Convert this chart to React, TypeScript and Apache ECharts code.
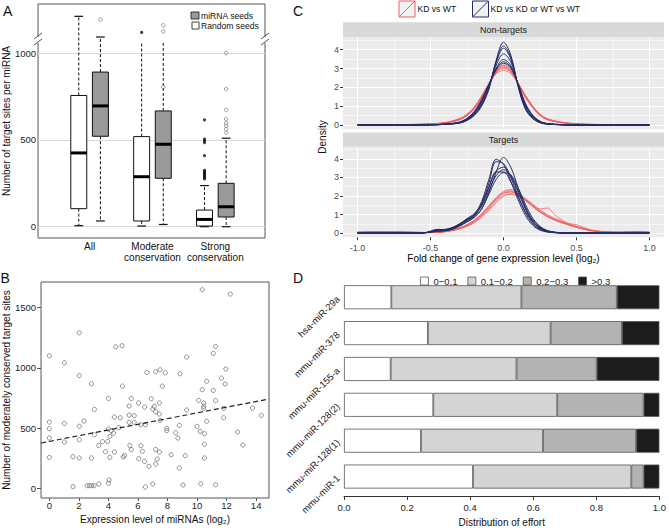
import React, { useEffect, useRef } from "react";
import * as echarts from "echarts";

const FONT = "'Liberation Sans', Arial, Helvetica, sans-serif";

// ---------------- Panel A (boxplots) ----------------
const A_CATEGORIES = ["All", "Moderate\nconservation", "Strong\nconservation"];
const A_GROUP_POS = [1, 2, 3];
const A_Y_TICKS = [0, 500, 1000];
// [lower whisker, Q1, median, Q3, upper whisker]
const A_RANDOM_STATS = [
  [6, 104, 425, 756, 1212],
  [4, 33, 288, 519, 1060],
  [0, 4, 42, 96, 237],
];
const A_MIRNA_STATS = [
  [33, 521, 696, 891, 1093],
  [13, 279, 475, 667, 1060],
  [0, 56, 115, 250, 510],
];
const A_RANDOM_UPPER_CAP = [1, 0, 1];
const A_MIRNA_UPPER_CAP = [1, 0, 1];
const A_RANDOM_OUTLIERS = [[], [1119], [616, 504, 494, 485, 410, 325, 318, 311, 304, 297, 290, 283, 276]];
const A_MIRNA_OUTLIERS = [[1193], [1160, 1125, 804], [1000, 793, 673, 620, 597, 581, 562, 542]];

// ---------------- Panel B (scatter) ----------------
const B_X_TICKS = [0, 2, 4, 6, 8, 10, 12, 14];
const B_Y_TICKS = [0, 500, 1000, 1500];
const B_EXPR = [
  0, 0, 0, 0, 0,
  1.02, 1.02, 1.02,
  1.6, 1.6,
  2.03, 2.03, 2.03, 2.03, 2.03,
  2.35, 2.56, 2.72, 2.87, 3.03,
  2.85, 2.85, 3.05, 3.05, 3.35, 3.35,
  3.6, 3.8, 3.95,
  4.0, 4.0, 4.0, 4.05,
  4.1, 4.1, 4.2, 4.35, 4.4, 4.4,
  4.5, 4.7, 4.8, 4.92, 4.95,
  5.0, 5.1,
  5.4, 5.4, 5.4, 5.45, 5.55, 5.55,
  5.75, 5.75,
  6.05, 6.05, 6.2, 6.2, 6.3, 6.45, 6.45, 6.5, 6.5,
  6.6, 6.75, 6.9, 7.0, 7.0, 7.1,
  7.2, 7.2, 7.2, 7.2, 7.3,
  7.45, 7.45, 7.45, 7.5, 7.5, 7.65, 7.85, 7.95, 7.95,
  8.25, 8.55, 8.7, 8.8, 8.8, 8.85, 9.05, 9.2, 9.3, 9.3,
  10.0, 10.1, 10.2, 10.25, 10.35, 10.35, 10.45, 10.45, 10.45,
  10.5, 10.5, 10.5, 10.65, 10.65,
  11.1, 11.1, 11.25, 11.25, 11.25,
  11.65, 11.8, 11.8, 11.9, 11.95, 12.25, 12.75, 13.1, 13.75, 14.35,
];
const B_SITES = [
  1100, 551, 496, 419, 259,
  1042, 540, 386,
  265, 17,
  1290, 937, 516, 405, 254,
  560, 25, 25, 25, 25,
  868, 254, 656, 447, 358, 39,
  389, 306, 391,
  747, 493, 44, 72,
  433, 259, 480, 460, 303, 593,
  1174, 505, 587, 1183, 849,
  262, 276,
  684, 609, 549, 358, 747, 323,
  604, 549,
  709, 248, 529, 356, 309, 675, 226, 529, 14,
  962, 185, 744, 659, 39, 681,
  968, 637, 325, 204, 245,
  709, 618, 303, 984, 565, 849, 959, 499, 480,
  281, 463, 419, 524, 171, 951, 30, 273, 1089, 651,
  516, 731, 474, 41, 1646, 819, 709, 681, 664,
  455, 367, 254, 888, 557,
  1119, 813, 1177, 728, 33,
  915, 664, 587, 866, 990, 1610, 469, 361, 667, 607,
];
const B_TREND_X = [-0.56, 14.87];
const B_TREND_Y = [378, 742];

// ---------------- Panel C (density curves) ----------------
const C_X_TICKS = [-1, -0.5, 0, 0.5, 1];
const C_X_MINOR = [-0.75, -0.25, 0.25, 0.75];
const C_Y_TICKS = [0, 1, 2, 3, 4];
const C_Y_MINOR = [0.5, 1.5, 2.5, 3.5, 4.5];
const C_NT_X = [-1, -0.6, -0.5, -0.4, -0.3, -0.25, -0.2, -0.15, -0.1, -0.05, 0, 0.05, 0.1, 0.15, 0.2, 0.25, 0.3, 0.4, 0.5, 0.6, 1];
const C_NT_KD = [
  [0, 0.03, 0.05, 0.11, 0.30, 0.52, 0.88, 1.45, 2.15, 2.80, 3.12, 2.86, 2.20, 1.50, 0.95, 0.52, 0.30, 0.13, 0.06, 0.03, 0],
  [0, 0.03, 0.06, 0.12, 0.33, 0.56, 0.93, 1.52, 2.20, 2.76, 3.02, 2.80, 2.22, 1.55, 0.99, 0.56, 0.32, 0.14, 0.06, 0.03, 0],
  [0, 0.02, 0.05, 0.10, 0.28, 0.49, 0.85, 1.40, 2.12, 2.84, 3.20, 2.92, 2.22, 1.48, 0.92, 0.50, 0.28, 0.12, 0.05, 0.02, 0],
  [0, 0.03, 0.06, 0.13, 0.35, 0.58, 0.96, 1.56, 2.22, 2.72, 2.90, 2.72, 2.20, 1.58, 1.02, 0.58, 0.34, 0.15, 0.07, 0.03, 0],
  [0, 0.03, 0.05, 0.11, 0.31, 0.53, 0.90, 1.48, 2.18, 2.78, 3.06, 2.84, 2.24, 1.54, 0.96, 0.53, 0.31, 0.13, 0.06, 0.03, 0],
  [0, 0.02, 0.05, 0.11, 0.29, 0.51, 0.87, 1.44, 2.14, 2.82, 3.16, 2.90, 2.18, 1.46, 0.93, 0.51, 0.29, 0.12, 0.05, 0.02, 0],
];
const C_NT_CTRL = [
  [0, 0, 0.01, 0.03, 0.10, 0.24, 0.50, 1.00, 1.90, 3.45, 4.40, 3.72, 2.05, 0.84, 0.34, 0.12, 0.05, 0.01, 0, 0, 0],
  [0, 0, 0.01, 0.03, 0.11, 0.26, 0.54, 1.06, 1.96, 3.38, 4.20, 3.58, 2.06, 0.88, 0.37, 0.13, 0.05, 0.01, 0, 0, 0],
  [0, 0, 0.01, 0.03, 0.12, 0.28, 0.58, 1.12, 2.00, 3.32, 4.08, 3.52, 2.10, 0.92, 0.39, 0.14, 0.05, 0.01, 0, 0, 0],
  [0, 0, 0.01, 0.04, 0.13, 0.30, 0.62, 1.20, 2.08, 3.18, 3.78, 3.35, 2.15, 1.00, 0.43, 0.16, 0.06, 0.01, 0, 0, 0],
  [0, 0, 0.01, 0.04, 0.14, 0.32, 0.66, 1.26, 2.12, 3.02, 3.48, 3.16, 2.18, 1.08, 0.48, 0.18, 0.07, 0.02, 0, 0, 0],
  [0, 0, 0.01, 0.04, 0.15, 0.34, 0.70, 1.30, 2.14, 2.96, 3.36, 3.08, 2.18, 1.12, 0.50, 0.19, 0.07, 0.02, 0, 0, 0],
  [0, 0, 0.01, 0.05, 0.16, 0.35, 0.72, 1.34, 2.16, 2.92, 3.28, 3.02, 2.18, 1.15, 0.52, 0.20, 0.08, 0.02, 0, 0, 0],
];
const C_T_X = [-1, -0.9, -0.7, -0.55, -0.45, -0.4, -0.35, -0.3, -0.25, -0.2, -0.15, -0.1, -0.05, 0, 0.05, 0.1, 0.15, 0.2, 0.25, 0.3, 0.35, 0.4, 0.45, 0.5, 0.6, 0.7, 0.8, 0.9, 1];
const C_T_KD = [
  [0.04, 0.06, 0.05, 0.02, 0.04, 0.08, 0.15, 0.25, 0.40, 0.62, 0.95, 1.35, 1.80, 2.12, 2.22, 2.08, 1.80, 1.50, 1.20, 0.96, 0.76, 0.60, 0.46, 0.33, 0.14, 0.06, 0.04, 0.07, 0.04],
  [0.03, 0.05, 0.06, 0.03, 0.05, 0.10, 0.18, 0.30, 0.46, 0.70, 1.05, 1.48, 1.92, 2.25, 2.35, 2.18, 1.85, 1.48, 1.15, 0.90, 0.70, 0.55, 0.42, 0.30, 0.12, 0.05, 0.04, 0.06, 0.03],
  [0.05, 0.07, 0.04, 0.02, 0.03, 0.07, 0.13, 0.22, 0.36, 0.56, 0.86, 1.22, 1.65, 1.98, 2.12, 2.06, 1.85, 1.58, 1.30, 1.35, 1.00, 0.70, 0.50, 0.36, 0.15, 0.07, 0.05, 0.08, 0.05],
  [0.03, 0.05, 0.05, 0.02, 0.04, 0.09, 0.16, 0.27, 0.42, 0.66, 1.00, 1.42, 1.85, 2.15, 2.22, 2.05, 1.75, 1.42, 1.12, 0.88, 0.70, 0.58, 0.50, 0.45, 0.16, 0.06, 0.03, 0.06, 0.03],
  [0.04, 0.06, 0.05, 0.03, 0.04, 0.08, 0.14, 0.24, 0.38, 0.58, 0.90, 1.28, 1.72, 2.02, 2.08, 1.98, 1.76, 1.50, 1.24, 1.00, 0.80, 0.64, 0.48, 0.35, 0.15, 0.07, 0.04, 0.07, 0.04],
  [0.03, 0.05, 0.06, 0.03, 0.05, 0.09, 0.17, 0.28, 0.44, 0.68, 1.02, 1.45, 1.88, 2.20, 2.28, 2.10, 1.78, 1.44, 1.14, 0.90, 0.72, 0.57, 0.43, 0.31, 0.13, 0.06, 0.04, 0.06, 0.03],
];
const C_T_CTRL = [
  [0, 0, 0, 0.01, 0.12, 0.14, 0.22, 0.40, 0.62, 0.85, 1.30, 2.20, 3.30, 4.08, 3.55, 2.45, 1.35, 0.62, 0.25, 0.09, 0.03, 0.01, 0, 0, 0, 0, 0, 0, 0],
  [0, 0, 0, 0.01, 0.20, 0.18, 0.30, 0.50, 0.75, 1.00, 1.70, 2.90, 3.98, 3.70, 2.80, 1.80, 0.95, 0.42, 0.16, 0.05, 0.02, 0, 0, 0, 0, 0, 0, 0, 0],
  [0, 0, 0, 0.01, 0.15, 0.16, 0.26, 0.46, 0.70, 0.92, 1.55, 2.70, 3.85, 3.75, 3.00, 2.00, 1.10, 0.50, 0.20, 0.07, 0.02, 0.01, 0, 0, 0, 0, 0, 0, 0],
  [0, 0, 0, 0.01, 0.10, 0.14, 0.24, 0.44, 0.68, 0.95, 1.50, 2.45, 3.35, 3.55, 3.05, 2.20, 1.30, 0.65, 0.28, 0.11, 0.04, 0.01, 0, 0, 0, 0, 0, 0, 0],
  [0, 0, 0, 0.01, 0.14, 0.16, 0.28, 0.48, 0.72, 0.98, 1.45, 2.30, 3.10, 3.42, 3.10, 2.30, 1.40, 0.72, 0.32, 0.12, 0.04, 0.01, 0, 0, 0, 0, 0, 0, 0],
  [0, 0, 0, 0.01, 0.18, 0.20, 0.30, 0.50, 0.78, 1.05, 1.60, 2.50, 3.30, 3.30, 2.75, 1.95, 1.15, 0.58, 0.24, 0.09, 0.03, 0.01, 0, 0, 0, 0, 0, 0, 0],
  [0, 0, 0, 0.01, 0.10, 0.12, 0.20, 0.38, 0.60, 0.85, 1.30, 2.10, 2.90, 3.25, 3.15, 2.45, 1.55, 0.80, 0.36, 0.14, 0.05, 0.02, 0, 0, 0, 0, 0, 0, 0],
];

// ---------------- Panel D (stacked bars) ----------------
const D_CATEGORIES = ["hsa-miR-29a", "mmu-miR-378", "mmu-miR-155-a", "mmu-miR-128(2)", "mmu-miR-128(1)", "mmu-miR-1"];
const D_BINS = ["0\u22120.1", "0.1\u22120.2", "0.2\u22120.3", ">0.3"];
const D_BIN_0 = [0.15, 0.266, 0.148, 0.283, 0.244, 0.409];
const D_BIN_1 = [0.4125, 0.389, 0.399, 0.393, 0.387, 0.502];
const D_BIN_2 = [0.3025, 0.226, 0.254, 0.274, 0.295, 0.039];
const D_BIN_3 = [0.135, 0.119, 0.199, 0.05, 0.074, 0.05];

// ---------------- styling constants ----------------
const A_BOX_WIDTH = 0.254;
const A_BOX_OFFSET = 0.172;
const RED = "rgba(240, 92, 96, 0.72)";
const RED_SOLID = "#EE5F66";
const NAVY = "#262C66";
const D_COLORS = ["#FFFFFF", "#D4D4D4", "#B3B3B3", "#1C1C1C"];
const plain = (v: number) => String(v);

function boxSeries(name: string, stats: number[][], caps: number[], offset: number, fill: string) {
  return {
    type: "custom",
    name,
    xAxisIndex: 0,
    yAxisIndex: 0,
    silent: true,
    z: 3,
    itemStyle: { color: fill, borderColor: "#111", borderWidth: 1 },
    encode: { x: 0, y: [1, 2, 3, 4, 5] },
    data: stats.map((s, i) => [A_GROUP_POS[i] + offset, s[0], s[1], s[2], s[3], s[4], caps[i]]),
    renderItem: (params: any, api: any) => {
      const x = api.value(0);
      const pLo = api.coord([x, api.value(1)]);
      const pQ1 = api.coord([x, api.value(2)]);
      const pMed = api.coord([x, api.value(3)]);
      const pQ3 = api.coord([x, api.value(4)]);
      const pHi = api.coord([x, api.value(5)]);
      const hasCap = api.value(6) > 0;
      const half = api.size([A_BOX_WIDTH, 0])[0] / 2;
      const cx = pMed[0];
      const capHalf = half * 0.55;
      const dash = { stroke: "#111", lineWidth: 1, lineDash: [3, 2] };
      const solid = { stroke: "#111", lineWidth: 1.2 };
      const children: any[] = [
        { type: "line", shape: { x1: cx, y1: pQ3[1], x2: cx, y2: pHi[1] }, style: dash },
        { type: "line", shape: { x1: cx, y1: pQ1[1], x2: cx, y2: pLo[1] }, style: dash },
        { type: "line", shape: { x1: cx - capHalf, y1: pLo[1], x2: cx + capHalf, y2: pLo[1] }, style: solid },
      ];
      if (hasCap) {
        children.push({ type: "line", shape: { x1: cx - capHalf, y1: pHi[1], x2: cx + capHalf, y2: pHi[1] }, style: solid });
      }
      children.push({
        type: "rect",
        shape: { x: cx - half, y: pQ3[1], width: half * 2, height: pQ1[1] - pQ3[1] },
        style: { fill, stroke: "#111", lineWidth: 1 },
      });
      children.push({
        type: "line",
        shape: { x1: cx - half, y1: pMed[1], x2: cx + half, y2: pMed[1] },
        style: { stroke: "#000", lineWidth: 3 },
      });
      return { type: "group", children };
    },
  };
}

function outlierData(groups: number[][], offset: number) {
  const out: number[][] = [];
  groups.forEach((vals, i) => vals.forEach((v) => out.push([A_GROUP_POS[i] + offset, v])));
  return out;
}

function densityLines(name: string, xs: number[], curves: number[][], color: string, axis: number, z: number) {
  return curves.map((ys) => ({
    type: "line",
    name,
    xAxisIndex: axis,
    yAxisIndex: axis,
    data: xs.map((x, i) => [x, ys[i]]),
    showSymbol: false,
    symbol: "none",
    smooth: 0.35,
    silent: true,
    z,
    lineStyle: { color, width: 1 },
  }));
}

function txt(text: string, x: number, y: number, size: number, extra: any = {}) {
  return {
    type: "text",
    x,
    y,
    z: 100,
    silent: true,
    ...extra.el,
    style: {
      text,
      fontSize: size,
      fontFamily: FONT,
      fill: "#111",
      align: extra.align || "left",
      textAlign: extra.align || "left",
      verticalAlign: extra.valign || "middle",
      textVerticalAlign: extra.valign || "middle",
      ...(extra.style || {}),
    },
  };
}

function breakMark(x: number, y: number) {
  return [
    { type: "rect", z: 100, silent: true, shape: { x: x - 3, y: y - 3, width: 6, height: 6 }, style: { fill: "#fff" } },
    { type: "line", z: 101, silent: true, shape: { x1: x - 4, y1: y - 1, x2: x + 4, y2: y - 7 }, style: { stroke: "#555", lineWidth: 1 } },
    { type: "line", z: 101, silent: true, shape: { x1: x - 4, y1: y + 5, x2: x + 4, y2: y - 1 }, style: { stroke: "#555", lineWidth: 1 } },
  ];
}

function legendKey(x: number, color: string) {
  return [
    { type: "rect", z: 100, silent: true, shape: { x, y: 1, width: 16, height: 16 }, style: { fill: "#F2F2F2", stroke: color, lineWidth: 1 } },
    { type: "line", z: 101, silent: true, shape: { x1: x + 0.5, y1: 16.5, x2: x + 15.5, y2: 1.5 }, style: { stroke: color, lineWidth: 1 } },
  ];
}

function buildOption() {
  const tickFmt1 = (v: number) => v.toFixed(1);
  const noLine = { show: false, onZero: false };
  const cMajorX = (grid: number, showLabels: boolean) => ({
    gridIndex: grid,
    type: "value",
    min: -1.1,
    max: 1.1,
    axisLine: noLine,
    axisTick: { show: showLabels, customValues: C_X_TICKS, length: 3, lineStyle: { color: "#333" } },
    axisLabel: {
      show: showLabels,
      customValues: C_X_TICKS,
      formatter: tickFmt1,
      fontSize: 9,
      color: "#4D4D4D",
      margin: 6.5,
      fontFamily: FONT,
    },
    splitLine: { show: true, lineStyle: { color: "#FFFFFF", width: 1.1 } },
    ...(showLabels
      ? {
          name: "Fold change of gene expression level (log\u2082)",
          nameLocation: "middle",
          nameGap: 16.5,
          nameTextStyle: { fontSize: 10, color: "#000", fontFamily: FONT },
        }
      : {}),
  });
  const cMinorX = (grid: number) => ({
    gridIndex: grid,
    type: "value",
    position: "top",
    min: -1.1,
    max: 1.1,
    axisLine: noLine,
    axisTick: { show: false, customValues: C_X_MINOR },
    axisLabel: { show: false },
    splitLine: { show: true, lineStyle: { color: "#FFFFFF", width: 0.5 } },
  });
  const cMajorY = (grid: number) => ({
    gridIndex: grid,
    type: "value",
    min: -0.23,
    max: 4.66,
    axisLine: noLine,
    axisTick: { show: true, customValues: C_Y_TICKS, length: 3, lineStyle: { color: "#333" } },
    axisLabel: { customValues: C_Y_TICKS, fontSize: 9, color: "#4D4D4D", margin: 4, fontFamily: FONT },
    splitLine: { show: true, lineStyle: { color: "#FFFFFF", width: 1.1 } },
  });
  const cMinorY = (grid: number) => ({
    gridIndex: grid,
    type: "value",
    position: "right",
    min: -0.23,
    max: 4.66,
    axisLine: noLine,
    axisTick: { show: false, customValues: C_Y_MINOR },
    axisLabel: { show: false },
    splitLine: { show: true, lineStyle: { color: "#FFFFFF", width: 0.5 } },
  });

  const dSeries = [D_BIN_0, D_BIN_1, D_BIN_2, D_BIN_3].map((vals, k) => ({
    type: "bar",
    name: D_BINS[k],
    stack: "effort",
    xAxisIndex: 6,
    yAxisIndex: 6,
    barWidth: 24,
    silent: true,
    data: vals,
    itemStyle: { color: D_COLORS[k], borderColor: "#555", borderWidth: 0.8 },
  }));

  return {
    animation: false,
    backgroundColor: "#ffffff",
    textStyle: { fontFamily: FONT },
    grid: [
      { left: 38, top: 4, width: 227, height: 234, show: true, borderColor: "#555", borderWidth: 1, backgroundColor: "rgba(0,0,0,0)" },
      { left: 38, top: 282, width: 231, height: 216, show: true, borderColor: "#555", borderWidth: 1, backgroundColor: "rgba(0,0,0,0)" },
      { left: 343, top: 37.3, width: 321, height: 92, show: true, borderWidth: 0, backgroundColor: "#EBEBEB" },
      { left: 343, top: 146.7, width: 321, height: 90.6, show: true, borderWidth: 0, backgroundColor: "#EBEBEB" },
      { left: 344, top: 279.3, width: 320, height: 218.7 },
    ],
    xAxis: [
      {
        gridIndex: 0,
        type: "value",
        min: 0.18,
        max: 3.79,
        axisLine: noLine,
        axisTick: { show: false, customValues: A_GROUP_POS },
        axisLabel: {
          customValues: A_GROUP_POS,
          formatter: (v: number) => A_CATEGORIES[Math.round(v) - 1] || "",
          fontSize: 10,
          lineHeight: 10.5,
          color: "#111",
          margin: 3.5,
          fontFamily: FONT,
        },
        splitLine: { show: false },
      },
      {
        gridIndex: 1,
        type: "value",
        min: -0.56,
        max: 14.87,
        axisLine: noLine,
        axisTick: { show: true, customValues: B_X_TICKS, length: 3, lineStyle: { color: "#555" } },
        axisLabel: { customValues: B_X_TICKS, formatter: plain, fontSize: 9.5, color: "#222", margin: 2.5, fontFamily: FONT },
        splitLine: { show: false },
        name: "Expression level of miRNAs (log\u2082)",
        nameLocation: "middle",
        nameGap: 16,
        nameTextStyle: { fontSize: 10, color: "#111", fontFamily: FONT },
      },
      cMajorX(2, false),
      cMinorX(2),
      cMajorX(3, true),
      cMinorX(3),
      {
        gridIndex: 4,
        type: "value",
        min: 0,
        max: 1,
        interval: 0.2,
        offset: 2,
        axisLine: { show: true, onZero: false, lineStyle: { color: "#333", width: 1 } },
        axisTick: { show: true, length: 3.5, lineStyle: { color: "#333" } },
        axisLabel: { formatter: tickFmt1, fontSize: 9.5, color: "#222", margin: 5.5, fontFamily: FONT },
        splitLine: { show: false },
        name: "Distribution of effort",
        nameLocation: "middle",
        nameGap: 20.5,
        nameTextStyle: { fontSize: 10, color: "#111", fontFamily: FONT },
      },
    ],
    yAxis: [
      {
        gridIndex: 0,
        type: "value",
        min: -65,
        max: 1283,
        axisLine: noLine,
        axisTick: { show: false, customValues: A_Y_TICKS },
        axisLabel: { customValues: A_Y_TICKS, formatter: plain, fontSize: 9.5, color: "#222", margin: 2, fontFamily: FONT },
        splitLine: { show: true, lineStyle: { color: "#D9D9D9", width: 1 } },
        name: "Number of target sites per miRNA",
        nameLocation: "middle",
        nameGap: 25,
        nameTextStyle: { fontSize: 10, color: "#111", fontFamily: FONT },
      },
      {
        gridIndex: 1,
        type: "value",
        min: -77,
        max: 1710,
        axisLine: noLine,
        axisTick: { show: true, customValues: B_Y_TICKS, length: 4, lineStyle: { color: "#555" } },
        axisLabel: { customValues: B_Y_TICKS, formatter: plain, fontSize: 9.5, color: "#222", margin: 5, fontFamily: FONT },
        splitLine: { show: false },
        name: "Number of moderately conserved target sites",
        nameLocation: "middle",
        nameGap: 25,
        nameTextStyle: { fontSize: 10, color: "#111", fontFamily: FONT },
      },
      cMajorY(2),
      cMinorY(2),
      cMajorY(3),
      cMinorY(3),
      {
        gridIndex: 4,
        type: "category",
        data: D_CATEGORIES,
        inverse: true,
        axisLine: noLine,
        axisTick: { show: false },
        axisLabel: { rotate: 45, fontSize: 9.5, color: "#222", margin: 6, fontFamily: FONT },
        splitLine: { show: false },
      },
    ],
    legend: {
      data: D_BINS,
      left: 415,
      top: 271,
      orient: "horizontal",
      icon: "rect",
      itemWidth: 8,
      itemHeight: 8,
      itemGap: 10,
      selectedMode: false,
      textStyle: { fontSize: 9.5, color: "#222", fontFamily: FONT },
      itemStyle: { borderColor: "#555", borderWidth: 0.8 },
    },
    series: [
      // Panel A
      boxSeries("Random seeds", A_RANDOM_STATS, A_RANDOM_UPPER_CAP, -A_BOX_OFFSET, "#FFFFFF"),
      boxSeries("miRNA seeds", A_MIRNA_STATS, A_MIRNA_UPPER_CAP, A_BOX_OFFSET, "#9A9A9A"),
      {
        type: "scatter",
        name: "Random outliers",
        xAxisIndex: 0,
        yAxisIndex: 0,
        silent: true,
        z: 4,
        symbol: "circle",
        symbolSize: 3.2,
        itemStyle: { color: "#111" },
        data: outlierData(A_RANDOM_OUTLIERS, -A_BOX_OFFSET),
      },
      {
        type: "scatter",
        name: "miRNA outliers",
        xAxisIndex: 0,
        yAxisIndex: 0,
        silent: true,
        z: 4,
        symbol: "circle",
        symbolSize: 3.6,
        itemStyle: { color: "rgba(0,0,0,0)", borderColor: "#777", borderWidth: 0.9 },
        data: outlierData(A_MIRNA_OUTLIERS, A_BOX_OFFSET),
      },
      // Panel B
      {
        type: "scatter",
        name: "miRNAs",
        xAxisIndex: 1,
        yAxisIndex: 1,
        silent: true,
        symbol: "circle",
        symbolSize: 4.2,
        itemStyle: { color: "rgba(0,0,0,0)", borderColor: "#555", borderWidth: 0.8 },
        data: B_EXPR.map((x, i) => [x, B_SITES[i]]),
      },
      {
        type: "line",
        name: "trend",
        xAxisIndex: 1,
        yAxisIndex: 1,
        silent: true,
        showSymbol: false,
        symbol: "none",
        lineStyle: { color: "#222", width: 1.2, type: [5, 3] },
        data: B_TREND_X.map((x, i) => [x, B_TREND_Y[i]]),
      },
      // Panel C
      ...densityLines("KD vs WT", C_NT_X, C_NT_KD, RED, 2, 3),
      ...densityLines("KD vs KD or WT vs WT", C_NT_X, C_NT_CTRL, NAVY, 2, 4),
      ...densityLines("KD vs WT", C_T_X, C_T_KD, RED, 4, 3),
      ...densityLines("KD vs KD or WT vs WT", C_T_X, C_T_CTRL, NAVY, 4, 4),
      // Panel D
      ...dSeries,
    ],
    graphic: [
      // panel letters
      txt("A", 3, 11, 14),
      txt("B", 0.5, 278, 14),
      txt("C", 293, 11, 14),
      txt("D", 293, 278, 14),
      // panel A legend
      { type: "rect", z: 100, silent: true, shape: { x: 191, y: 12, width: 8, height: 7 }, style: { fill: "#9A9A9A", stroke: "#111", lineWidth: 0.8 } },
      txt("miRNA seeds", 201, 15.5, 8.6),
      { type: "rect", z: 100, silent: true, shape: { x: 192, y: 22, width: 7, height: 7 }, style: { fill: "#FFFFFF", stroke: "#111", lineWidth: 0.8 } },
      txt("Random seeds", 201, 25.5, 8.6),
      // axis break marks in panel A
      ...breakMark(38, 40),
      ...breakMark(265, 40),
      // panel C legend
      ...legendKey(399, RED_SOLID),
      txt("KD vs WT", 417.5, 9, 8.6),
      ...legendKey(472.5, NAVY),
      txt("KD vs KD or WT vs WT", 490.5, 9, 8.6),
      // panel C facet strips
      { type: "rect", z: 100, silent: true, shape: { x: 343, y: 22.3, width: 321, height: 15 }, style: { fill: "#D9D9D9" } },
      txt("Non-targets", 503.5, 29.8, 9, { align: "center", style: { fill: "#1A1A1A" } }),
      { type: "rect", z: 100, silent: true, shape: { x: 343, y: 132.5, width: 321, height: 14.2 }, style: { fill: "#D9D9D9" } },
      txt("Targets", 503.5, 139.6, 9, { align: "center", style: { fill: "#1A1A1A" } }),
      txt("Density", 322.5, 137, 10, { align: "center", el: { rotation: Math.PI / 2 } }),
    ],
  };
}

export default function App() {
  const ref = useRef<HTMLDivElement>(null);
  useEffect(() => {
    if (!ref.current) return;
    const chart = echarts.init(ref.current, null, { renderer: "svg" });
    chart.setOption(buildOption() as any);
    return () => {
      chart.dispose();
    };
  }, []);
  return (
    <div
      ref={ref}
      style={{ position: "absolute", left: 0, top: 0, width: 669, height: 528, background: "#ffffff" }}
    />
  );
}
